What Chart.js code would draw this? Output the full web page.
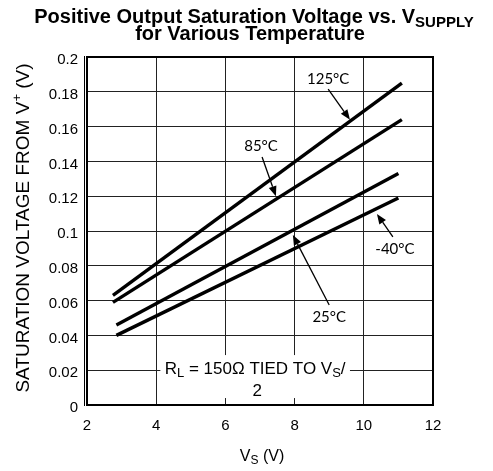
<!DOCTYPE html>
<html><head><meta charset="utf-8">
<script src="https://cdn.jsdelivr.net/npm/chart.js@4/dist/chart.umd.min.js"></script>
<style>html,body{margin:0;padding:0;background:#fff}#wrap{width:493px;height:471px;position:relative}</style>
</head><body><div id="wrap"><canvas id="c" width="493" height="471"></canvas></div>
<script>
// ---- data ----
const xTicks = [2, 4, 6, 8, 10, 12];
const yTicks = [0, 0.02, 0.04, 0.06, 0.08, 0.1, 0.12, 0.14, 0.16, 0.18, 0.2];
const yTickLabels = ['0', '0.02', '0.04', '0.06', '0.08', '0.1', '0.12', '0.14', '0.16', '0.18', '0.2'];
const xTickLabels = ['2', '4', '6', '8', '10', '12'];
const tempLabels = ['125°C', '85°C', '25°C', '-40°C'];
const vs125 = [2.75, 11.1];
const sat125 = [0.063, 0.185];
const vs85 = [2.75, 11.1];
const sat85 = [0.059, 0.164];
const vs25 = [2.85, 11.0];
const sat25 = [0.046, 0.133];
const vsM40 = [2.85, 11.0];
const satM40 = [0.040, 0.119];

const pts = (xs, ys) => xs.map((x, i) => ({x: x, y: ys[i]}));
const ARIAL = '"Liberation Sans", Arial, sans-serif';

function drawRich(ctx, parts, cx, cy, align) {
  let w = 0;
  parts.forEach(p => { ctx.font = p.font; p.w = ctx.measureText(p.t).width; w += p.w; });
  let x = align === 'left' ? cx : cx - w / 2;
  ctx.textAlign = 'left';
  ctx.textBaseline = 'alphabetic';
  parts.forEach(p => { ctx.font = p.font; ctx.fillText(p.t, x, cy + (p.dy || 0)); x += p.w; });
  return w;
}

function arrow(ctx, x1, y1, x2, y2) {
  ctx.save();
  ctx.strokeStyle = '#000'; ctx.fillStyle = '#000'; ctx.lineWidth = 1.3;
  const a = Math.atan2(y2 - y1, x2 - x1);
  const L = 10, W = 4;
  const bx = x2 - L * Math.cos(a), by = y2 - L * Math.sin(a);
  ctx.beginPath(); ctx.moveTo(x1, y1); ctx.lineTo(bx, by); ctx.stroke();
  ctx.beginPath();
  ctx.moveTo(x2, y2);
  ctx.lineTo(bx + W * Math.sin(a), by - W * Math.cos(a));
  ctx.lineTo(bx - W * Math.sin(a), by + W * Math.cos(a));
  ctx.closePath(); ctx.fill();
  ctx.restore();
}

const decor = {
  id: 'decor',
  beforeDatasetsDraw(chart) {
    const ctx = chart.ctx, xs = chart.scales.x, ys = chart.scales.y, a = chart.chartArea;
    ctx.save();
    ctx.fillStyle = '#fff';
    const bx1 = xs.getPixelForValue(4.12), bx2 = xs.getPixelForValue(9.6);
    const by1 = ys.getPixelForValue(0.0287), by2 = ys.getPixelForValue(0.004);
    ctx.fillRect(bx1, by1, bx2 - bx1, by2 - by1);
    ctx.strokeStyle = '#000'; ctx.lineWidth = 1;
    ctx.beginPath(); ctx.moveTo(a.left - 2.5, a.top - 1); ctx.lineTo(a.left - 2.5, a.bottom + 1); ctx.stroke();
    ctx.restore();
  },
  afterDatasetsDraw(chart) {
    const ctx = chart.ctx, xs = chart.scales.x, ys = chart.scales.y;
    const P = (x, y) => [xs.getPixelForValue(x), ys.getPixelForValue(y)];
    ctx.save();
    ctx.fillStyle = '#000';
    ctx.font = '15px Lato, "Open Sans", sans-serif';
    ctx.textAlign = 'center'; ctx.textBaseline = 'middle';
    const labs = [
      {t: tempLabels[0], at: [8.97, 0.187], from: [8.97, 0.1815], to: [9.6, 0.164]},
      {t: tempLabels[1], at: [7.03, 0.149], from: [7.06, 0.1425], to: [7.46, 0.120]},
      {t: tempLabels[2], at: [9.0, 0.0506], from: [9.0, 0.0575], to: [7.95, 0.0977]},
      {t: tempLabels[3], at: [10.9, 0.0897], from: [10.84, 0.0966], to: [10.38, 0.1098]}
    ];
    labs.forEach(l => {
      const [tx, ty] = P(l.at[0], l.at[1]);
      ctx.fillText(l.t, tx, ty);
      const [x1, y1] = P(l.from[0], l.from[1]);
      const [x2, y2] = P(l.to[0], l.to[1]);
      arrow(ctx, x1, y1, x2, y2);
    });
    const [ax, ay] = P(6.86, 0.0213);
    const f = '17px ' + ARIAL, fs = '13px ' + ARIAL;
    drawRich(ctx, [
      {t: 'R', font: f}, {t: 'L', font: fs, dy: 3},
      {t: ' = 150Ω TIED TO V', font: f}, {t: 'S', font: fs, dy: 3}, {t: '/', font: f}
    ], ax, ay + 6);
    const [a2x, a2y] = P(6.92, 0.0086);
    drawRich(ctx, [{t: '2', font: f}], a2x, a2y + 6);
    ctx.restore();
  },
  afterDraw(chart) {
    const ctx = chart.ctx;
    ctx.save();
    ctx.fillStyle = '#000';
    const tf = 'bold 20px ' + ARIAL, tfs = 'bold 15px ' + ARIAL;
    drawRich(ctx, [
      {t: 'Positive Output Saturation Voltage vs. V', font: tf},
      {t: 'SUPPLY', font: tfs, dy: 4}
    ], 254, 23);
    drawRich(ctx, [{t: 'for Various Temperature', font: tf}], 250, 40);
    const af = '16px ' + ARIAL, afs = '12px ' + ARIAL;
    drawRich(ctx, [
      {t: 'V', font: af}, {t: 'S', font: afs, dy: 3}, {t: ' (V)', font: af}
    ], 262, 461);
    ctx.translate(23, 228);
    ctx.rotate(-Math.PI / 2);
    const yf = '19px ' + ARIAL, yfs = '13px ' + ARIAL;
    drawRich(ctx, [
      {t: 'SATURATION VOLTAGE FROM V', font: yf}, {t: '+', font: yfs, dy: -8},
      {t: ' (V)', font: yf}
    ], 0, 6);
    ctx.restore();
  }
};

new Chart(document.getElementById('c'), {
  type: 'scatter',
  data: {
    datasets: [
      {label: tempLabels[0], data: pts(vs125, sat125)},
      {label: tempLabels[1], data: pts(vs85, sat85)},
      {label: tempLabels[2], data: pts(vs25, sat25)},
      {label: tempLabels[3], data: pts(vsM40, satM40)}
    ].map(d => Object.assign(d, {
      showLine: true, borderColor: '#000', borderWidth: 3.4, pointRadius: 0,
      borderCapStyle: 'butt', fill: false
    }))
  },
  options: {
    responsive: false, animation: false, devicePixelRatio: 1,
    layout: {padding: {top: 57, right: 60, left: 0, bottom: 0}},
    plugins: {legend: {display: false}, tooltip: {enabled: false}, title: {display: false}},
    scales: {
      x: {
        type: 'linear', min: 2, max: 12,
        afterBuildTicks: s => { s.ticks = xTicks.map(v => ({value: v})); },
        afterFit: s => { s.height = 66; },
        ticks: {color: '#000', font: {size: 15, family: ARIAL}, padding: 12,
                callback: (v, i) => xTickLabels[i]},
        grid: {color: '#222', lineWidth: 1, drawTicks: false},
        border: {display: true, color: '#000', width: 2}
      },
      y: {
        type: 'linear', min: 0, max: 0.2,
        afterBuildTicks: s => { s.ticks = yTicks.map(v => ({value: v})); },
        afterFit: s => { s.width = 87; },
        ticks: {color: '#000', font: {size: 15, family: ARIAL}, padding: 9, labelOffset: 3,
                callback: (v, i) => yTickLabels[i]},
        grid: {color: '#222', lineWidth: 1, drawTicks: false},
        border: {display: true, color: '#000', width: 2}
      }
    }
  },
  plugins: [decor, {
    id: 'frame',
    afterDatasetsDraw(chart) {
      const ctx = chart.ctx, a = chart.chartArea;
      ctx.save(); ctx.strokeStyle = '#000'; ctx.lineWidth = 2;
      ctx.beginPath();
      ctx.moveTo(a.left, a.top); ctx.lineTo(a.right, a.top); ctx.lineTo(a.right, a.bottom);
      ctx.stroke(); ctx.restore();
    }
  }]
});
</script>
</body></html>
